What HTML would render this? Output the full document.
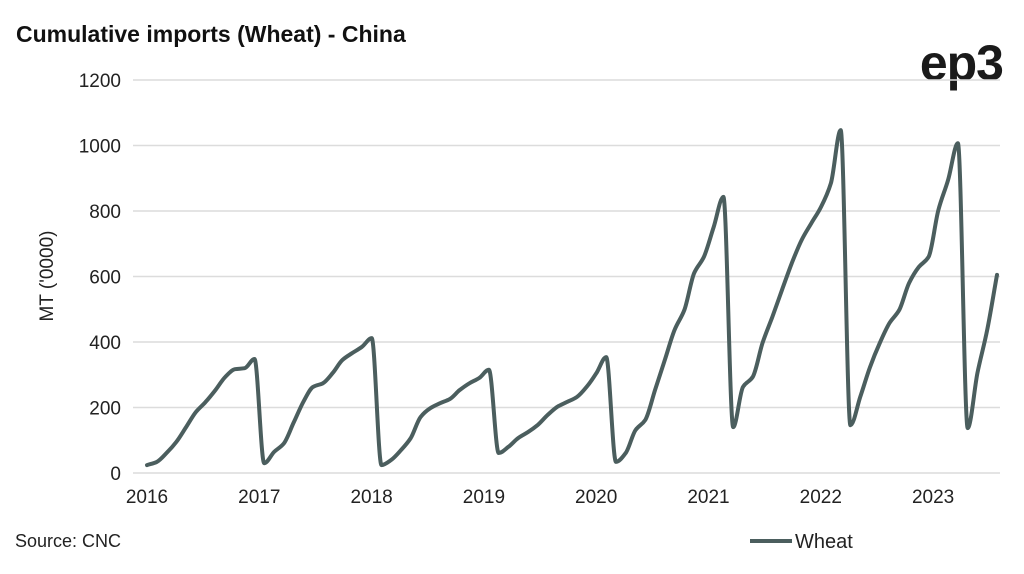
<!DOCTYPE html>
<html><head><meta charset="utf-8"><style>
body{margin:0;background:#fff;}
svg text{font-family:"Liberation Sans",sans-serif;}
</style></head><body>
<svg width="1024" height="569" viewBox="0 0 1024 569" id="chart">
<text x="16" y="42" font-size="23" font-weight="bold" fill="#111">Cumulative imports (Wheat) - China</text>
<text x="1003" y="80" font-size="50" font-weight="bold" fill="#1a1a1a" text-anchor="end" letter-spacing="-1">ep3</text>
<text transform="translate(53,276) rotate(-90)" font-size="19" fill="#222" text-anchor="middle">MT ('0000)</text>
<text x="15" y="547" font-size="18" fill="#222">Source: CNC</text>
<line x1="750" y1="541" x2="792" y2="541" stroke="#4b5e5e" stroke-width="4"/>
<text x="795" y="548" font-size="20" fill="#222">Wheat</text>
<g id="grid"></g><g id="ticks"></g><g id="series"></g>
</svg>
<script>
const yTicks=[0,200,400,600,800,1000,1200];
const xTickLabels=["2016","2017","2018","2019","2020","2021","2022","2023"];
const wheat2016=[24,34,61,95,140,186,217,253,293,317,320,348];
const wheat2017=[30,64,90,153,217,263,274,305,345,366,385,412];
const wheat2018=[24,40,70,107,171,198,213,226,253,274,290,315];
const wheat2019=[61,80,107,125,147,177,202,217,232,263,305,354];
const wheat2020=[34,61,131,162,253,345,437,498,610,660,751,843];
const wheat2021=[140,263,293,397,476,559,641,711,763,813,885,1047];
const wheat2022=[146,232,323,397,458,498,580,629,660,803,895,1007];
const wheat2023=[137,305,437,605];
const values=[].concat(wheat2016,wheat2017,wheat2018,wheat2019,wheat2020,wheat2021,wheat2022,wheat2023);
const NS="http://www.w3.org/2000/svg";
const y=v=>473-v*(393/1200);
const x=i=>147+i*9.77;
const tickX=k=>147+k*112.3;
const grid=document.getElementById('grid'),ticks=document.getElementById('ticks'),series=document.getElementById('series');
yTicks.forEach(t=>{
 const l=document.createElementNS(NS,'line');
 l.setAttribute('x1',133);l.setAttribute('x2',1000);l.setAttribute('y1',y(t));l.setAttribute('y2',y(t));
 l.setAttribute('stroke','#dcdcdc');l.setAttribute('stroke-width','1.5');
 
 
 grid.appendChild(l);
 const tx=document.createElementNS(NS,'text');
 tx.setAttribute('x',121);tx.setAttribute('y',y(t)+7);tx.setAttribute('text-anchor','end');tx.setAttribute('font-size','19');tx.setAttribute('fill','#222');
 tx.textContent=t;
 
 
 ticks.appendChild(tx);
});
xTickLabels.forEach((s,k)=>{
 const tx=document.createElementNS(NS,'text');
 tx.setAttribute('x',tickX(k));tx.setAttribute('y',503);tx.setAttribute('text-anchor','middle');tx.setAttribute('font-size','19');tx.setAttribute('fill','#222');
 tx.textContent=s;
 
 
 ticks.appendChild(tx);
});
// monotone cubic (no overshoot)
const n=values.length;
const px=values.map((v,i)=>x(i)), py=values.map(v=>y(v));
const dx=[],sl=[];
for(let i=0;i<n-1;i++){dx.push(px[i+1]-px[i]);sl.push((py[i+1]-py[i])/dx[i]);}
const m=new Array(n);
m[0]=sl[0];m[n-1]=sl[n-2];
for(let i=1;i<n-1;i++){
 if(sl[i-1]*sl[i]<=0)m[i]=0;
 else m[i]=3*(dx[i-1]+dx[i])/((2*dx[i]+dx[i-1])/sl[i-1]+(dx[i]+2*dx[i-1])/sl[i]);
}
let d='M'+px[0].toFixed(1)+','+py[0].toFixed(1);
for(let i=0;i<n-1;i++){
 const h=dx[i]/3;
 d+=' C'+(px[i]+h).toFixed(1)+','+(py[i]+m[i]*h).toFixed(1)+' '+(px[i+1]-h).toFixed(1)+','+(py[i+1]-m[i+1]*h).toFixed(1)+' '+px[i+1].toFixed(1)+','+py[i+1].toFixed(1);
}
const path=document.createElementNS(NS,'path');
path.setAttribute('d',d);path.setAttribute('fill','none');path.setAttribute('stroke','#4b5e5e');path.setAttribute('stroke-width','4');path.setAttribute('stroke-linejoin','round');path.setAttribute('stroke-linecap','round');


series.appendChild(path);
</script>
</body></html>
